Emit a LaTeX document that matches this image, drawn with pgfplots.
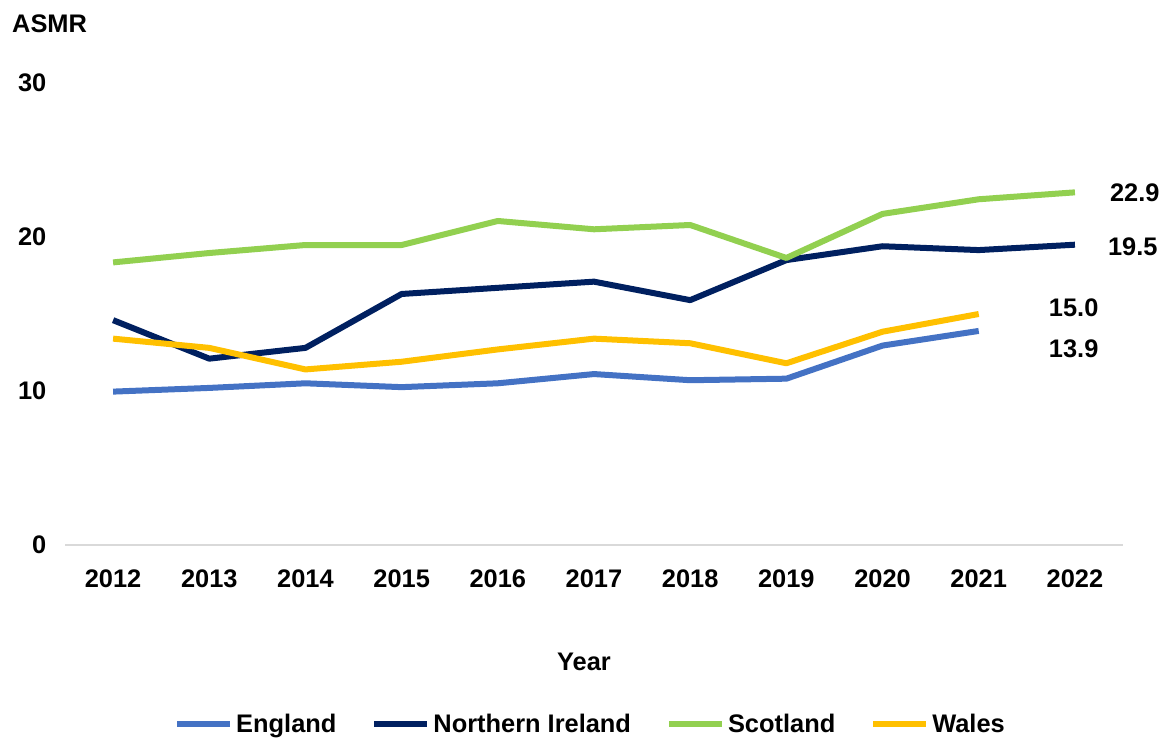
\documentclass[border=0pt]{standalone}
\usepackage{fontspec}
\setmainfont{Liberation Sans}
\usepackage{pgfplots}
\pgfplotsset{compat=1.18}
\definecolor{eng}{HTML}{4472C4}
\definecolor{nir}{HTML}{002060}
\definecolor{sco}{HTML}{92D050}
\definecolor{wal}{HTML}{FFC000}
\definecolor{axgray}{HTML}{D9D9D9}
\begin{document}
\begin{tikzpicture}[font=\fontsize{25.5}{30}\selectfont\bfseries]
\path[use as bounding box] (0,0) rectangle (1168bp,742bp);
\node[anchor=base west, inner sep=0] at (12bp,709bp) {ASMR};
\begin{axis}[
  at={(65bp,197bp)}, anchor=south west,
  scale only axis, width=1058bp, height=462bp,
  xmin=-0.5, xmax=10.5, ymin=0, ymax=30,
  xtick={0,...,10},
  xticklabels={2012,2013,2014,2015,2016,2017,2018,2019,2020,2021,2022},
  ytick={0,10,20,30},
  /pgf/number format/assume math mode=true,
  axis lines=left,
  axis line style={-},
  y axis line style={draw=none},
  x axis line style={draw=axgray, line width=2bp},
  tick style={draw=none},
  xticklabel style={anchor=base, yshift=-40bp},
  yticklabel style={anchor=east, xshift=-13bp},
  xlabel={Year},
  xlabel style={at={(axis description cs:0.5,0)}, anchor=base, yshift=-125bp, xshift=-10bp},
  legend style={at={(axis description cs:0.5,0)}, anchor=center, yshift=-179bp, xshift=-3bp,
    draw=none, fill=none, legend columns=-1,
    /tikz/every even column/.append style={column sep=32bp},
    nodes={inner sep=3bp}},
  legend image code/.code={\draw[#1, line width=6bp] (0bp,0bp) -- (53bp,0bp);},
  every axis plot/.append style={line width=6bp, line join=round},
  clip=false,
]
\addplot[eng] coordinates {(0,9.96) (1,10.2) (2,10.5) (3,10.25) (4,10.5) (5,11.1) (6,10.7) (7,10.8) (8,12.95) (9,13.9)};
\addlegendentry{England}
\addplot[nir] coordinates {(0,14.6) (1,12.1) (2,12.8) (3,16.3) (4,16.7) (5,17.1) (6,15.9) (7,18.5) (8,19.4) (9,19.15) (10,19.5)};
\addlegendentry{Northern Ireland}
\addplot[sco] coordinates {(0,18.35) (1,18.96) (2,19.48) (3,19.48) (4,21.04) (5,20.5) (6,20.78) (7,18.64) (8,21.5) (9,22.45) (10,22.9)};
\addlegendentry{Scotland}
\addplot[wal] coordinates {(0,13.4) (1,12.8) (2,11.4) (3,11.9) (4,12.7) (5,13.4) (6,13.1) (7,11.8) (8,13.85) (9,15.0)};
\addlegendentry{Wales}
\node[anchor=west, inner sep=0, xshift=35bp] at (axis cs:10,22.9) {22.9};
\node[anchor=west, inner sep=0, xshift=33bp, yshift=-2bp] at (axis cs:10,19.5) {19.5};
\node[anchor=west, inner sep=0, xshift=70bp, yshift=6bp] at (axis cs:9,15.0) {15.0};
\node[anchor=west, inner sep=0, xshift=70bp, yshift=-18bp] at (axis cs:9,13.9) {13.9};
\end{axis}
\end{tikzpicture}
\end{document}
